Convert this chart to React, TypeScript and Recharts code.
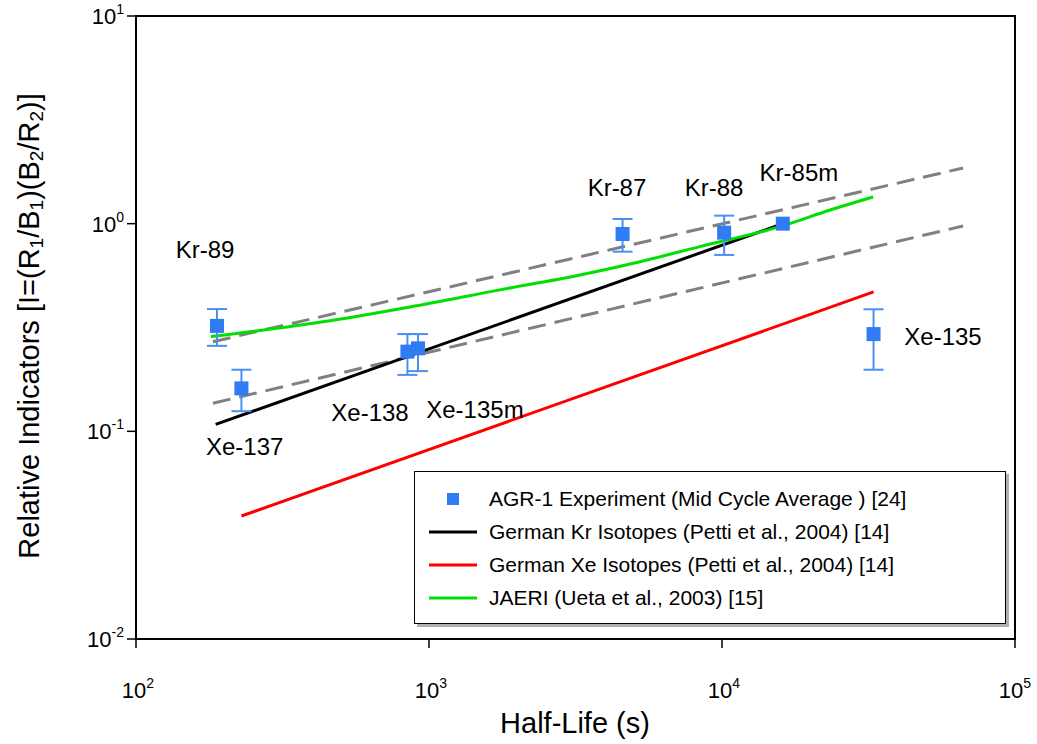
import React from 'react';
import {
	ComposedChart,
	Line,
	Scatter,
	ErrorBar,
	XAxis,
	YAxis,
	ReferenceArea,
} from 'recharts';

const FONT = '"Liberation Sans", Arial, sans-serif';

// measured points (AGR-1)
const isotopes = ['Kr-89', 'Xe-137', 'Xe-138', 'Xe-135m', 'Kr-87', 'Kr-88', 'Kr-85m', 'Xe-135'];
const halfLife = [189, 229, 844, 917, 4578, 10170, 16128, 32904];
const measured = [0.322, 0.161, 0.242, 0.251, 0.892, 0.905, 1.0, 0.294];
const errLow = [0.258, 0.125, 0.187, 0.195, 0.733, 0.707, null, 0.198];
const errHigh = [0.388, 0.198, 0.294, 0.294, 1.053, 1.093, null, 0.387];

// where each isotope name sits (data units)
const labelX = [172, 235, 629, 1435, 4381, 9400, 18300, 56800];
const labelY = [0.747, 0.0841, 0.1227, 0.128, 1.5, 1.5, 1.755, 0.285];

// model curves
const krX = [187, 16128];
const krY = [0.108, 1.0];
const xeX = [229, 32904];
const xeY = [0.0391, 0.469];
const jaeriX = [180, 459, 861, 1746, 3275, 5250, 8410, 16180, 23400, 32800];
const jaeriY = [0.286, 0.341, 0.397, 0.48, 0.566, 0.656, 0.775, 0.978, 1.164, 1.345];
const bandX = [183, 66500];
const bandUpperY = [0.27, 1.854];
const bandLowerY = [0.1365, 0.975];

const xTicks = [100, 1000, 10000, 100000];
const yTicks = [0.01, 0.1, 1, 10];

const toPoints = (xs: number[], ys: number[]) => xs.map((x, i) => ({ x, y: ys[i] }));

const points = halfLife.map((x, i) => ({
	x,
	y: measured[i],
	err: errLow[i] == null ? null : [measured[i] - (errLow[i] as number), (errHigh[i] as number) - measured[i]],
}));
const labels = isotopes.map((name, i) => ({ x: labelX[i], y: labelY[i], name }));

const BLUE = '#2f7cf5';

const XTick = (props: any) => {
	const exp = Math.round(Math.log10(props.payload.value));
	return (
		<text x={props.x + 2} y={props.y + 48} textAnchor="middle" fontFamily={FONT} fontSize={22} fill="#000">
			<tspan>10</tspan>
			<tspan dy={-10} fontSize={14}>{exp}</tspan>
		</text>
	);
};

const YTick = (props: any) => {
	const exp = Math.round(Math.log10(props.payload.value));
	return (
		<text x={props.x - 1} y={props.y + 8} textAnchor="end" fontFamily={FONT} fontSize={22} fill="#000">
			<tspan>10</tspan>
			<tspan dy={-10} fontSize={14}>{exp}</tspan>
		</text>
	);
};

const Square = (props: any) => (
	<rect x={props.cx - 7} y={props.cy - 7} width={14} height={14} fill={BLUE} />
);

const NameLabel = (props: any) => (
	<text
		x={props.cx}
		y={props.cy}
		textAnchor="middle"
		dominantBaseline="central"
		fontFamily={FONT}
		fontSize={24}
		fill="#000"
	>
		{props.payload.name}
	</text>
);

const legendRows = [
	{ name: 'AGR-1 Experiment (Mid Cycle Average ) [24]', color: BLUE, kind: 'square' },
	{ name: 'German Kr Isotopes (Petti et al., 2004) [14]', color: '#000000', kind: 'line' },
	{ name: 'German Xe Isotopes (Petti et al., 2004) [14]', color: '#ff0000', kind: 'line' },
	{ name: 'JAERI (Ueta et al., 2003) [15]', color: '#00e000', kind: 'line' },
];

export default function App() {
	return (
		<div style={{ position: 'absolute', left: 0, top: 0, width: 1037, height: 744, background: '#fff' }}>
			<ComposedChart width={1037} height={744} margin={{ top: 16, right: 22, bottom: 0, left: 0 }}>
				<XAxis
					type="number"
					dataKey="x"
					scale="log"
					domain={[100, 100000]}
					ticks={xTicks}
					allowDataOverflow
					height={105}
					tickSize={9}
					tick={<XTick />}
					axisLine={{ stroke: '#000', strokeWidth: 2 }}
					tickLine={{ stroke: '#000', strokeWidth: 1.5 }}
					label={{
						content: () => (
							<text x={575} y={733} textAnchor="middle" fontFamily={FONT} fontSize={29} fill="#000">
								Half-Life (s)
							</text>
						),
					}}
				/>
				<YAxis
					type="number"
					dataKey="y"
					scale="log"
					domain={[0.01, 10]}
					ticks={yTicks}
					allowDataOverflow
					width={136}
					tickSize={9}
					tick={<YTick />}
					axisLine={{ stroke: '#000', strokeWidth: 2 }}
					tickLine={{ stroke: '#000', strokeWidth: 1.5 }}
					label={{
						content: () => (
							<text
								x={29}
								y={326}
								transform="rotate(-90 29 326)"
								textAnchor="middle"
								dominantBaseline="central"
								fontFamily={FONT}
								fontSize={29}
								fill="#000"
							>
								<tspan>Relative Indicators [I=(R</tspan>
								<tspan dy={7} fontSize={19}>1</tspan>
								<tspan dy={-7}>/B</tspan>
								<tspan dy={7} fontSize={19}>1</tspan>
								<tspan dy={-7}>)(B</tspan>
								<tspan dy={7} fontSize={19}>2</tspan>
								<tspan dy={-7}>/R</tspan>
								<tspan dy={7} fontSize={19}>2</tspan>
								<tspan dy={-7}>)]</tspan>
							</text>
						),
					}}
				/>
				<ReferenceArea x1={100} x2={100000} y1={0.01} y2={10} fill="none" stroke="#000" strokeWidth={2} />
				<Line
					data={toPoints(bandX, bandUpperY)}
					dataKey="y"
					type="linear"
					stroke="#808080"
					strokeWidth={3}
					strokeDasharray="18 9"
					dot={false}
					isAnimationActive={false}
				/>
				<Line
					data={toPoints(bandX, bandLowerY)}
					dataKey="y"
					type="linear"
					stroke="#808080"
					strokeWidth={3}
					strokeDasharray="18 9"
					dot={false}
					isAnimationActive={false}
				/>
				<Line
					data={toPoints(krX, krY)}
					dataKey="y"
					type="linear"
					stroke="#000000"
					strokeWidth={3}
					dot={false}
					isAnimationActive={false}
				/>
				<Line
					data={toPoints(xeX, xeY)}
					dataKey="y"
					type="linear"
					stroke="#ff0000"
					strokeWidth={3}
					dot={false}
					isAnimationActive={false}
				/>
				<Line
					data={toPoints(jaeriX, jaeriY)}
					dataKey="y"
					type="monotone"
					stroke="#00e000"
					strokeWidth={3}
					dot={false}
					isAnimationActive={false}
				/>
				<Scatter data={points} dataKey="y" shape={<Square />} isAnimationActive={false}>
					<ErrorBar dataKey="err" direction="y" width={10} stroke="#4a8ff2" strokeWidth={2} />
				</Scatter>
				<Scatter data={labels} dataKey="y" shape={<NameLabel />} isAnimationActive={false} />
			</ComposedChart>
			<div
				style={{
					position: 'absolute',
					left: 414,
					top: 471,
					width: 592,
					height: 153,
					border: '1.5px solid #000',
					background: '#fff',
					boxShadow: '3px 3px 0 #b0b0b0',
					fontFamily: FONT,
					fontSize: 21,
					paddingTop: 10,
					boxSizing: 'border-box',
				}}
			>
				{legendRows.map((row) => (
					<div key={row.name} style={{ display: 'flex', alignItems: 'center', height: 33, whiteSpace: 'nowrap' }}>
						<svg width={74} height={20} style={{ flex: 'none' }}>
							{row.kind === 'square' ? (
								<rect x={32} y={4} width={12} height={12} fill={row.color} />
							) : (
								<line x1={14} y1={10} x2={62} y2={10} stroke={row.color} strokeWidth={3} />
							)}
						</svg>
						<span>{row.name}</span>
					</div>
				))}
			</div>
		</div>
	);
}
